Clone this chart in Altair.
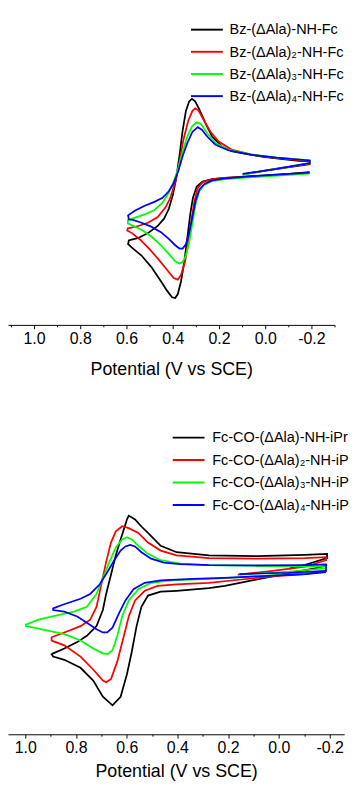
import altair as alt
import pandas as pd

FONT = "Liberation Sans"

# ---------------- top panel (Bz-(ΔAla)n-NH-Fc) ----------------
top_names = ["Bz-(ΔAla)-NH-Fc", "Bz-(ΔAla)₂-NH-Fc", "Bz-(ΔAla)₃-NH-Fc", "Bz-(ΔAla)₄-NH-Fc"]

top_black_v = [-0.192, -0.104, 0.035, 0.174, 0.229, 0.271, 0.296, 0.3125, 0.324, 0.336, 0.350, 0.364, 0.378, 0.389, 0.403, 0.424, 0.451, 0.493, 0.535, 0.569, 0.593,
               0.590, 0.549, 0.507, 0.465, 0.4375, 0.417, 0.399, 0.385, 0.371, 0.357, 0.343, 0.329, 0.317, 0.303, 0.285, 0.257, 0.229, 0.1875, 0.146, 0.090, 0.007, -0.076, -0.146, -0.192,
               -0.192, -0.104, -0.007, 0.097]
top_black_i = [15.87, 15.67, 15.47, 15.27, 15.13, 14.87, 14.37, 13.2, 11.53, 9.2, 6.53, 4.53, 3.2, 2.8, 2.87, 3.53, 4.53, 6.03, 7.2, 7.87, 8.37,
               8.77, 9.03, 9.53, 10.27, 11.03, 12.03, 13.53, 15.2, 17.53, 20.2, 22.2, 23.2, 23.47, 23.2, 22.37, 20.87, 19.53, 18.53, 18.03, 17.77, 17.43, 17.2, 17.03, 17.0,
               16.67, 16.37, 16.03, 15.63]

top_red_v = [-0.192, 0.035, 0.174, 0.229, 0.271, 0.292, 0.306, 0.319, 0.333, 0.347, 0.364, 0.378, 0.396, 0.424, 0.458, 0.500, 0.542, 0.576, 0.597,
             0.594, 0.549, 0.507, 0.465, 0.431, 0.410, 0.389, 0.371, 0.354, 0.333, 0.315, 0.303, 0.289, 0.268, 0.236, 0.201, 0.146, 0.0625, -0.035, -0.146, -0.192,
             -0.192, -0.0625, 0.097]
top_red_i = [15.8, 15.43, 15.27, 15.13, 14.8, 14.2, 12.87, 10.87, 8.53, 6.53, 5.2, 4.7, 4.87, 5.7, 6.7, 7.87, 8.87, 9.53, 9.8,
             10.03, 10.27, 10.6, 11.2, 12.2, 13.2, 14.87, 16.87, 19.2, 21.2, 22.2, 22.47, 22.27, 21.37, 20.03, 19.03, 18.2, 17.7, 17.37, 17.1, 17.03,
             16.73, 16.27, 15.63]

top_green_v = [-0.192, 0.035, 0.174, 0.229, 0.264, 0.285, 0.301, 0.315, 0.329, 0.343, 0.357, 0.371, 0.389, 0.417, 0.451, 0.493, 0.535, 0.569, 0.594,
               0.594, 0.5625, 0.521, 0.479, 0.444, 0.417, 0.396, 0.375, 0.357, 0.337, 0.317, 0.296, 0.278, 0.25, 0.215, 0.160, 0.0625, -0.049, -0.192,
               -0.192, -0.049, 0.097]
top_green_i = [15.7, 15.37, 15.13, 14.93, 14.53, 13.87, 12.53, 10.53, 8.53, 7.2, 6.53, 6.37, 6.6, 7.37, 8.27, 9.2, 9.87, 10.27, 10.53,
               10.87, 11.13, 11.47, 11.93, 12.7, 13.7, 14.87, 16.37, 18.03, 19.53, 20.6, 21.03, 20.87, 19.87, 18.87, 18.2, 17.7, 17.37, 17.1,
               16.8, 16.2, 15.6]

top_blue_v = [-0.192, 0.035, 0.174, 0.229, 0.264, 0.285, 0.301, 0.315, 0.329, 0.343, 0.357, 0.371, 0.389, 0.417, 0.451, 0.493, 0.535, 0.569, 0.590,
              0.593, 0.5625, 0.521, 0.479, 0.444, 0.417, 0.396, 0.375, 0.357, 0.337, 0.315, 0.292, 0.274, 0.25, 0.215, 0.160, 0.0625, -0.049, -0.192,
              -0.192, -0.049, 0.097]
top_blue_i = [15.8, 15.47, 15.2, 15.0, 14.6, 14.03, 12.87, 11.2, 9.53, 8.37, 7.93, 7.93, 8.27, 8.93, 9.63, 10.2, 10.6, 10.87, 10.97,
              11.37, 11.87, 12.37, 12.77, 13.2, 13.87, 14.7, 16.03, 17.53, 18.87, 20.03, 20.53, 20.27, 19.53, 18.7, 18.13, 17.67, 17.37, 17.07,
              16.8, 16.2, 15.67]

# ---------------- bottom panel (Fc-CO-(ΔAla)n-NH-iPr) ----------------
bot_names = ["Fc-CO-(ΔAla)-NH-iPr", "Fc-CO-(ΔAla)₂-NH-iPr", "Fc-CO-(ΔAla)₃-NH-iPr", "Fc-CO-(ΔAla)₄-NH-iPr"]

bot_black_v = [-0.190, -0.142, -0.041, 0.086, 0.213, 0.276, 0.403, 0.466, 0.516, 0.542, 0.561, 0.580, 0.599, 0.624, 0.656, 0.694, 0.732, 0.782, 0.846, 0.890, 0.896,
               0.890, 0.846, 0.795, 0.757, 0.719, 0.694, 0.681, 0.662, 0.643, 0.624, 0.611, 0.599, 0.592, 0.567, 0.542, 0.516, 0.466, 0.403, 0.276, 0.086, -0.104, -0.190,
               -0.190, -0.104, -0.041]
bot_black_i = [17.57, 17.23, 16.73, 16.07, 15.4, 15.17, 14.9, 14.8, 14.4, 13.23, 11.23, 8.57, 6.23, 3.9, 3.0, 3.9, 5.57, 6.9, 7.73, 8.07, 8.3,
               8.4, 8.9, 9.57, 10.23, 11.23, 12.9, 14.57, 16.57, 18.57, 20.23, 21.3, 22.3, 22.7, 22.3, 21.57, 20.9, 19.57, 18.9, 18.57, 18.5, 18.63, 18.73,
               18.3, 17.6, 17.2]

bot_red_v = [-0.186, -0.104, 0.023, 0.149, 0.276, 0.403, 0.478, 0.529, 0.567, 0.592, 0.611, 0.637, 0.662, 0.681, 0.694, 0.732, 0.782, 0.846, 0.896,
             0.896, 0.846, 0.782, 0.744, 0.719, 0.700, 0.681, 0.662, 0.643, 0.618, 0.592, 0.554, 0.516, 0.466, 0.403, 0.276, 0.086, -0.104, -0.186,
             -0.186, -0.104, 0.023, 0.162]
bot_red_i = [16.9, 16.63, 16.4, 16.07, 15.73, 15.57, 15.4, 14.9, 13.9, 12.23, 10.23, 7.57, 5.73, 5.4, 5.57, 6.73, 8.07, 9.23, 9.73,
             10.07, 10.57, 11.23, 11.9, 13.23, 15.57, 17.9, 19.9, 21.07, 21.6, 21.4, 20.9, 19.9, 19.07, 18.57, 18.3, 18.23, 18.3, 18.4,
             18.07, 17.4, 16.97, 16.57]

bot_green_v = [-0.186, -0.104, 0.086, 0.276, 0.428, 0.504, 0.554, 0.592, 0.618, 0.637, 0.656, 0.675, 0.694, 0.732, 0.782, 0.846, 0.934, 0.9975,
               0.9975, 0.947, 0.884, 0.808, 0.757, 0.719, 0.694, 0.668, 0.643, 0.618, 0.599, 0.580, 0.554, 0.516, 0.466, 0.390, 0.276, 0.086, -0.104, -0.186,
               -0.186, -0.041, 0.156]
bot_green_i = [16.97, 16.73, 16.4, 16.13, 15.97, 15.73, 15.07, 13.9, 12.23, 10.23, 8.73, 8.33, 8.4, 8.9, 9.73, 10.4, 10.9, 11.23,
               11.4, 11.9, 12.3, 12.73, 13.23, 14.57, 16.23, 17.9, 19.4, 20.23, 20.47, 20.23, 19.57, 18.73, 18.07, 17.73, 17.57, 17.47, 17.43, 17.47,
               17.23, 16.9, 16.57]

bot_blue_v = [-0.186, -0.104, 0.086, 0.213, 0.339, 0.466, 0.529, 0.573, 0.605, 0.630, 0.656, 0.677, 0.694, 0.719, 0.757, 0.795, 0.846, 0.890,
              0.890, 0.858, 0.820, 0.782, 0.744, 0.706, 0.675, 0.649, 0.624, 0.605, 0.586, 0.567, 0.542, 0.504, 0.453, 0.390, 0.276, 0.086, -0.104, -0.186,
              -0.186, -0.041, 0.156]
bot_blue_i = [16.83, 16.63, 16.4, 16.23, 16.13, 15.97, 15.73, 15.07, 13.9, 12.57, 11.07, 10.57, 10.57, 10.9, 11.57, 12.23, 12.73, 12.9,
              13.07, 13.4, 13.73, 14.07, 14.57, 15.57, 16.9, 18.07, 19.07, 19.5, 19.67, 19.5, 18.9, 18.23, 17.83, 17.67, 17.57, 17.53, 17.57, 17.63,
              16.97, 16.77, 16.63]

colors = ["#000000", "#ff0000", "#00ff00", "#0000ff"]


def frame(names, pairs):
    rows = []
    for name, (vs, cs) in zip(names, pairs):
        for k, (v, c) in enumerate(zip(vs, cs)):
            rows.append({"series": name, "V": v, "I": c, "k": k})
    return pd.DataFrame(rows)


top_df = frame(top_names, [(top_black_v, top_black_i), (top_red_v, top_red_i),
                           (top_green_v, top_green_i), (top_blue_v, top_blue_i)])
bot_df = frame(bot_names, [(bot_black_v, bot_black_i), (bot_red_v, bot_red_i),
                           (bot_green_v, bot_green_i), (bot_blue_v, bot_blue_i)])

tick_test = "abs(round(datum.value * 10)) % 2 == 0"


def x_axis(values, title_pad):
    return alt.Axis(
        values=values,
        labelExpr="abs(round(datum.value * 10)) % 2 == 0 ? replace(format(datum.value, '.1f'), '\u2212', '-') : ''",
        tickSize={"condition": {"test": tick_test, "value": 4}, "value": 2},
        labelFlush=False,
        labelOverlap=False,
        labelPadding=2,
        titlePadding=title_pad,
        grid=False,
    )


def panel(df, names, xdom, width, height, ydom, values, title_pad, lx, ly, loff, lrow, lexpr):
    xs = alt.Scale(domain=xdom, reverse=True, nice=False, zero=False)
    ys = alt.Scale(domain=ydom, nice=False, zero=False)
    return alt.Chart(df).mark_line(strokeWidth=1.8, clip=True).encode(
        x=alt.X("V:Q", title="Potential (V vs SCE)", scale=xs, axis=x_axis(values, title_pad)),
        y=alt.Y("I:Q", scale=ys, axis=None),
        color=alt.Color("series:N", sort=names,
                        scale=alt.Scale(domain=names, range=colors),
                        legend=alt.Legend(orient="none", legendX=lx, legendY=ly, title=None,
                                          symbolType="M-3,0H3", symbolSize=121, symbolStrokeWidth=2,
                                          labelFontSize=15, labelFont=FONT, labelColor="#000000",
                                          labelOffset=loff, rowPadding=lrow, padding=0,
                                          labelLimit=300, labelExpr=lexpr)),
        order="k:Q",
    ).properties(width=width, height=height)


top_vals = [1.1, 1.0, 0.9, 0.8, 0.7, 0.6, 0.5, 0.4, 0.3, 0.2, 0.1, 0.0, -0.1, -0.2, -0.3]
bot_vals = [1.0, 0.9, 0.8, 0.7, 0.6, 0.5, 0.4, 0.3, 0.2, 0.1, 0.0, -0.1, -0.2]

top = panel(top_df, top_names, [-0.3, 1.1125], 339, 314, [0, 31.4], top_vals, 14,
            199, 0, 16, 7, "datum.label")
bottom = panel(bot_df, bot_names, [-0.2575, 1.068], 349, 319, [0, 31.9], bot_vals, 6,
               180, 3.5, 17, 7.3, "substring(datum.label, 0, 19)")

chart = alt.vconcat(top, bottom, spacing=51).resolve_scale(
    color="independent", x="independent", y="independent"
).properties(
    padding={"left": 0, "top": 0, "right": 0, "bottom": 0},
    background="white",
).configure_view(stroke=None).configure_axis(
    labelFont=FONT, titleFont=FONT, labelFontSize=16.5, titleFontSize=18.5,
    titleFontWeight="normal", labelColor="#000000", titleColor="#000000",
    domainColor="#000000", tickColor="#000000", domainWidth=1, tickWidth=1,
)

chart.save("out.html", embed_options={"renderer": "svg", "actions": False})
